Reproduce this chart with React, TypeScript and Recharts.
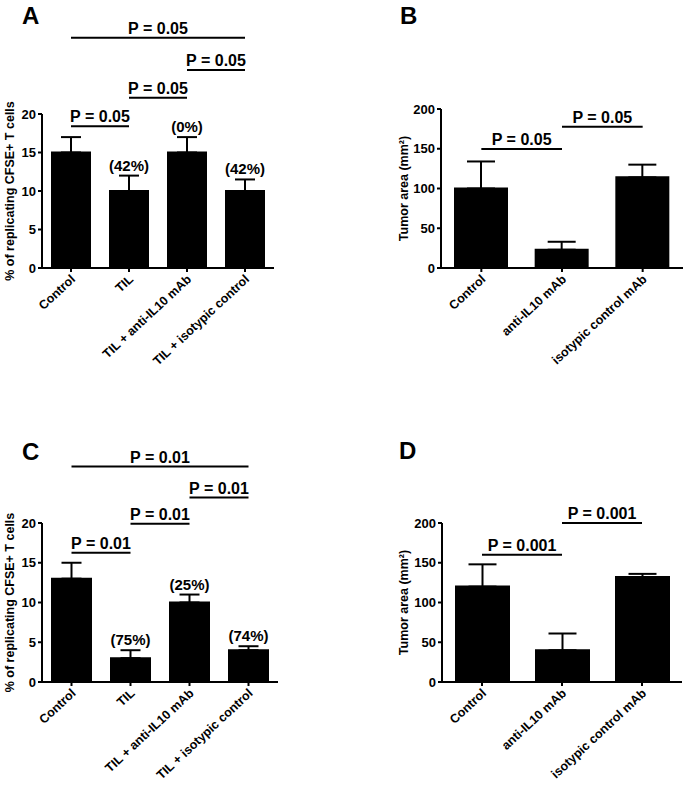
import React from "react";
import {
  Bar,
  BarChart,
  ErrorBar,
  ReferenceDot,
  ReferenceLine,
  XAxis,
  YAxis,
} from "recharts";

// groups
const groupsAC = ["Control", "TIL", "TIL + anti-IL10 mAb", "TIL + isotypic control"];
const groupsBD = ["Control", "anti-IL10 mAb", "isotypic control mAb"];

// A: % replicating CFSE+ T cells
const meanA = [15, 10, 15, 10];
const errA = [2, 2, 2, 1.5];
const pctA = ["", "(42%)", "(0%)", "(42%)"];

// B: tumor area
const meanB = [100, 23, 114];
const errB = [34, 10, 16];

// C: % replicating CFSE+ T cells
const meanC = [13, 3, 10, 4];
const errC = [2, 1, 1, 0.5];
const pctC = ["", "(75%)", "(25%)", "(74%)"];

// D: tumor area
const meanD = [120, 40, 132];
const errD = [28, 21, 4];

const ticksPct = [0, 5, 10, 15, 20];
const ticksArea = [0, 50, 100, 150, 200];

// significance brackets: from/to are group indexes, y in data units
const sigA = [
  { from: 0, to: 3, y: 29.9, label: "P = 0.05" },
  { from: 2, to: 3, y: 25.7, label: "P = 0.05" },
  { from: 1, to: 2, y: 22.1, label: "P = 0.05" },
  { from: 0, to: 1, y: 18.4, label: "P = 0.05" },
];
const sigB = [
  { from: 0, to: 1, y: 149.7, label: "P = 0.05" },
  { from: 1, to: 2, y: 177.7, label: "P = 0.05" },
];
const sigC = [
  { from: 0, to: 3, y: 27.1, label: "P = 0.01" },
  { from: 2, to: 3, y: 23.2, label: "P = 0.01" },
  { from: 1, to: 2, y: 19.9, label: "P = 0.01" },
  { from: 0, to: 1, y: 16.25, label: "P = 0.01" },
];
const sigD = [
  { from: 0, to: 1, y: 160, label: "P = 0.001" },
  { from: 1, to: 2, y: 200, label: "P = 0.001" },
];

const FONT = "'Liberation Sans', Arial, sans-serif";

function SlantTick(props: any) {
  const { x, y, payload } = props;
  return (
    <g transform={`translate(${x + 2},${y + 3})`}>
      <text
        x={0}
        y={0}
        dy="0.35em"
        transform="rotate(-43)"
        textAnchor="end"
        fontSize={12.5}
        fontWeight="bold"
        fontFamily={FONT}
        fill="#000"
      >
        {payload.value}
      </text>
    </g>
  );
}

interface PanelProps {
  letter: string;
  left: number;
  top: number;
  width: number;
  height: number;
  groups: string[];
  means: number[];
  errs: number[];
  pcts?: string[];
  sig: { from: number; to: number; y: number; label: string }[];
  domain: [number, number];
  ticks: number[];
  yLabel: string;
  yLabelOffset: number;
  yAxisWidth: number;
  margin: { top: number; right: number };
  xAxisHeight: number;
  barSize: number;
  capHalf: number;
  letterPos: { left: number; top: number };
}

function Panel(p: PanelProps) {
  const data = p.groups.map((g, i) => ({
    name: g,
    value: p.means[i],
    err: [0, p.errs[i]],
  }));
  return (
    <>
      <div
        style={{
          position: "absolute",
          left: p.letterPos.left,
          top: p.letterPos.top,
          fontFamily: FONT,
          fontWeight: "bold",
          fontSize: 24,
          lineHeight: "24px",
        }}
      >
        {p.letter}
      </div>
      <div style={{ position: "absolute", left: p.left, top: p.top }}>
        <BarChart
          width={p.width}
          height={p.height}
          data={data}
          margin={{ top: p.margin.top, right: p.margin.right, left: 0, bottom: 0 }}
          style={{ overflow: "visible" }}
        >
          <XAxis
            dataKey="name"
            interval={0}
            height={p.xAxisHeight}
            axisLine={{ stroke: "#000", strokeWidth: 2 }}
            tickLine={{ stroke: "#000", strokeWidth: 2 }}
            tickSize={4}
            tick={<SlantTick />}
          />
          <YAxis
            width={p.yAxisWidth}
            domain={p.domain}
            ticks={p.ticks}
            interval={0}
            axisLine={{ stroke: "#000", strokeWidth: 2 }}
            tickLine={{ stroke: "#000", strokeWidth: 2 }}
            tickSize={4}
            tickMargin={2}
            tick={{ fill: "#000", fontSize: 13, fontWeight: "bold", fontFamily: FONT }}
            label={{
              value: p.yLabel,
              angle: -90,
              position: "insideLeft",
              offset: p.yLabelOffset,
              fill: "#000",
              fontSize: 12.5,
              fontWeight: "bold",
              fontFamily: FONT,
              style: { textAnchor: "middle" },
            }}
          />
          <Bar
            dataKey="value"
            fill="#000"
            stroke="#000"
            strokeWidth={2}
            barSize={p.barSize}
            isAnimationActive={false}
          >
            <ErrorBar
              dataKey="err"
              direction="y"
              width={p.capHalf}
              stroke="#000"
              strokeWidth={2}
              isAnimationActive={false}
            />
          </Bar>
          {p.sig.map((s, i) => (
            <ReferenceLine
              key={"s" + i}
              segment={[
                { x: p.groups[s.from], y: s.y },
                { x: p.groups[s.to], y: s.y },
              ]}
              stroke="#000"
              strokeWidth={2}
              ifOverflow="visible"
              label={{
                value: s.label,
                position: "top",
                offset: 4,
                fill: "#000",
                fontSize: 16,
                fontWeight: "bold",
                fontFamily: FONT,
              }}
            />
          ))}
          {(p.pcts || []).map((t, i) =>
            t ? (
              <ReferenceDot
                key={"p" + i}
                x={p.groups[i]}
                y={p.means[i] + p.errs[i]}
                r={0}
                fill="none"
                stroke="none"
                ifOverflow="visible"
                label={{
                  value: t,
                  position: "top",
                  offset: 5,
                  fill: "#000",
                  fontSize: 15,
                  fontWeight: "bold",
                  fontFamily: FONT,
                }}
              />
            ) : null
          )}
        </BarChart>
      </div>
    </>
  );
}

export default function App() {
  return (
    <div
      style={{
        position: "absolute",
        left: 0,
        top: 0,
        width: 685,
        height: 787,
        background: "#fff",
        fontFamily: FONT,
      }}
    >
      <Panel
        letter="A"
        left={0}
        top={0}
        width={285}
        height={390}
        groups={groupsAC}
        means={meanA}
        errs={errA}
        pcts={pctA}
        sig={sigA}
        domain={[0, 20]}
        ticks={ticksPct}
        yLabel="% of replicating CFSE+ T cells"
        yLabelOffset={10}
        yAxisWidth={42}
        margin={{ top: 114, right: 11 }}
        xAxisHeight={122}
        barSize={38}
        capHalf={10}
        letterPos={{ left: 22, top: 4 }}
      />
      <Panel
        letter="B"
        left={380}
        top={0}
        width={305}
        height={390}
        groups={groupsBD}
        means={meanB}
        errs={errB}
        sig={sigB}
        domain={[0, 200]}
        ticks={ticksArea}
        yLabel="Tumor area (mm²)"
        yLabelOffset={24}
        yAxisWidth={61}
        margin={{ top: 109, right: 2 }}
        xAxisHeight={122}
        barSize={52}
        capHalf={14}
        letterPos={{ left: 400, top: 4 }}
      />
      <Panel
        letter="C"
        left={0}
        top={390}
        width={285}
        height={397}
        groups={groupsAC}
        means={meanC}
        errs={errC}
        pcts={pctC}
        sig={sigC}
        domain={[0, 20]}
        ticks={ticksPct}
        yLabel="% of replicating CFSE+ T cells"
        yLabelOffset={10}
        yAxisWidth={42}
        margin={{ top: 133, right: 7 }}
        xAxisHeight={105}
        barSize={39}
        capHalf={10}
        letterPos={{ left: 22, top: 440 }}
      />
      <Panel
        letter="D"
        left={380}
        top={390}
        width={305}
        height={397}
        groups={groupsBD}
        means={meanD}
        errs={errD}
        sig={sigD}
        domain={[0, 200]}
        ticks={ticksArea}
        yLabel="Tumor area (mm²)"
        yLabelOffset={24}
        yAxisWidth={62}
        margin={{ top: 133, right: 3 }}
        xAxisHeight={105}
        barSize={53}
        capHalf={14}
        letterPos={{ left: 399, top: 439 }}
      />
    </div>
  );
}
